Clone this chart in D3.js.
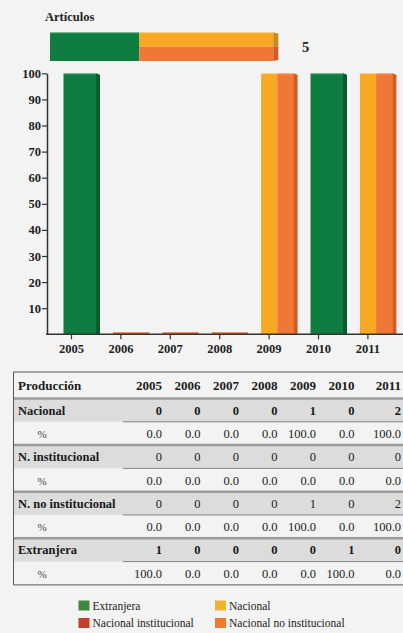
<!DOCTYPE html>
<html><head><meta charset="utf-8">
<script src="https://cdn.jsdelivr.net/npm/d3@7"></script>
<style>
html,body{margin:0;padding:0;background:#f3f3f3;}
svg{display:block;}
svg text{font-family:"Liberation Serif","DejaVu Serif","Times New Roman",serif;}
</style>
</head><body>
<svg id="c" width="403" height="633" font-family="Liberation Serif, DejaVu Serif, serif"></svg>
<script>
// ---------- data ----------
const years = ["2005","2006","2007","2008","2009","2010","2011"];
const nacional      = [0,0,0,0,1,0,2];
const nacInst       = [0,0,0,0,0,0,0];
const nacNoInst     = [0,0,0,0,1,0,2];
const extranjera    = [1,0,0,0,0,1,0];
const nacionalPct   = [0,0,0,0,100,0,100];
const nacInstPct    = [0,0,0,0,0,0,0];
const nacNoInstPct  = [0,0,0,0,100,0,100];
const extranjeraPct = [100,0,0,0,0,100,0];
const yTicks = [10,20,30,40,50,60,70,80,90,100];
const seriesNames = ["Extranjera","Nacional","Nacional institucional","Nacional no institucional"];
const tableLabels = ["Nacional","N. institucional","N. no institucional","Extranjera"];
const titleText = "Artículos";
const headerLabel = "Producción";

// ---------- styles ----------
const FONT = "Liberation Serif, DejaVu Serif, serif";
const C = {
  green:"#0f7d3f", greenSide:"#0a5b2c",
  yellow:"#f8a823", yellowSide:"#c78b1f",
  orange:"#f17735", orangeSide:"#d35a27",
  zero:"#e4662c",
  legend:["#3d8a3d","#f2b12f","#c4402a","#f07b2c"]
};
const svg = d3.select("#c");

const barSeries = [
  {name:"Extranjera", pct:extranjeraPct, front:C.green, side:C.greenSide},
  {name:"Nacional", pct:nacionalPct, front:C.yellow, side:C.yellowSide},
  {name:"Nacional institucional", pct:nacInstPct, front:"#c4402a", side:"#9c2f1f"},
  {name:"Nacional no institucional", pct:nacNoInstPct, front:C.orange, side:C.orangeSide}
];

// ---------- title and summary bar ----------
svg.append("text").attr("x",45).attr("y",21).attr("font-size",12.5).attr("font-weight","bold")
  .attr("fill","#222").text(titleText);

const totExt = d3.sum(extranjera), totNac = d3.sum(nacional);
const total = totExt + totNac;
const xs = d3.scaleLinear([0,total],[50,273.3]);
const tbTop = 32.3, tbBot = 61, tbMid = (tbTop+tbBot)/2;
svg.append("rect").attr("x",xs(0)).attr("y",tbTop).attr("width",xs(totExt)-xs(0)).attr("height",tbBot-tbTop).attr("fill",C.green);
svg.append("rect").attr("x",xs(totExt)).attr("y",tbTop).attr("width",xs(total)-xs(totExt)).attr("height",tbMid-tbTop).attr("fill",C.yellow);
svg.append("rect").attr("x",xs(totExt)).attr("y",tbMid).attr("width",xs(total)-xs(totExt)).attr("height",tbBot-tbMid).attr("fill",C.orange);
svg.append("path").attr("d",`M${xs(total)},${tbTop} L${xs(total)+5},${tbTop+1.5} L${xs(total)+5},${tbMid} L${xs(total)},${tbMid}Z`).attr("fill",C.yellowSide);
svg.append("path").attr("d",`M${xs(total)},${tbMid} L${xs(total)+5},${tbMid} L${xs(total)+5},${tbBot-1} L${xs(total)},${tbBot}Z`).attr("fill",C.orangeSide);
svg.append("rect").attr("x",xs(0)).attr("y",tbTop).attr("width",xs(total)-xs(0)).attr("height",1).attr("fill","#fff").attr("opacity",0.35);
svg.append("text").attr("x",302).attr("y",52).attr("font-size",14.5).attr("font-weight","bold").attr("fill","#222").text(String(total));

// ---------- bar chart ----------
const y = d3.scaleLinear([0,100],[334.3,73.3]);
const x = d3.scaleBand(years,[46.8,392.6]);
const frontW = 32.5, sideW = 4;

const gBars = svg.append("g");
years.forEach((yr,i)=>{
  const left = x(yr) + x.bandwidth()/2 - 8;
  const active = barSeries.filter(s=>s.pct[i]>0);
  if(active.length===0){
    gBars.append("rect").attr("x",left).attr("y",y(0)-2).attr("width",frontW+sideW).attr("height",2).attr("fill",C.zero);
    return;
  }
  const w = frontW/active.length;
  active.forEach((s,k)=>{
    gBars.append("rect").attr("x",left+k*w).attr("y",y(s.pct[i])).attr("width",w+0.3)
      .attr("height",y(0)-y(s.pct[i])).attr("fill",s.front);
  });
  const last = active[active.length-1];
  const fx = left+frontW, top = y(last.pct[i]);
  gBars.append("path").attr("d",`M${fx},${top} L${fx+sideW},${top+1.5} L${fx+sideW},${y(0)} L${fx},${y(0)}Z`).attr("fill",last.side);
  gBars.append("rect").attr("x",left).attr("y",top).attr("width",frontW).attr("height",1).attr("fill","#fff").attr("opacity",0.3);
});

const yAxis = svg.append("g").attr("transform","translate(47,0)")
  .call(d3.axisLeft(y).tickValues(yTicks).tickSize(5).tickSizeOuter(0).tickPadding(1));
yAxis.attr("font-family",FONT);
yAxis.select(".domain").attr("stroke","#333").attr("stroke-width",1.5);
yAxis.selectAll(".tick line").attr("stroke","#333").attr("stroke-width",1.2);
yAxis.selectAll(".tick text").attr("font-size",12.5).attr("font-weight","bold").attr("fill","#222");

const xAxis = svg.append("g").attr("transform",`translate(0,${y(0)})`)
  .call(d3.axisBottom(x).tickSize(5).tickPadding(5));
xAxis.attr("font-family",FONT);
xAxis.select(".domain").remove();
xAxis.selectAll(".tick line").attr("stroke","#333").attr("stroke-width",1.2);
xAxis.selectAll(".tick text").attr("font-size",12.5).attr("font-weight","bold").attr("fill","#222");
svg.append("line").attr("x1",46).attr("x2",403).attr("y1",y(0)).attr("y2",y(0)).attr("stroke","#333").attr("stroke-width",1.5);

// ---------- table ----------
const tTop = 372, hdrH = 26.5, rowH = 23.3, tLeft = 13.5;
const nRows = tableLabels.length*2;
const tBottom = tTop + hdrH + nRows*rowH;
const colScale = d3.scaleLinear([0,5],[162,354.5]);
const colRight = i => i < years.length-1 ? colScale(i) : 401;

const counts = [nacional, nacInst, nacNoInst, extranjera];
const pcts = [nacionalPct, nacInstPct, nacNoInstPct, extranjeraPct];
const boldRow = [true,false,false,true];
const gBg = svg.append("g");
const gT = svg.append("g").attr("fill","#1a1a1a");

tableLabels.forEach((lab,r)=>{
  const rt = tTop + hdrH + r*2*rowH;
  gBg.append("rect").attr("x",tLeft).attr("y",rt).attr("width",403-tLeft).attr("height",rowH).attr("fill","#dcdcdc");
});
svg.append("line").attr("x1",tLeft).attr("x2",403).attr("y1",tTop+hdrH).attr("y2",tTop+hdrH).attr("stroke","#9b9b9b").attr("stroke-width",2.5);
tableLabels.forEach((lab,r)=>{
  const rt = tTop + hdrH + r*2*rowH;
  if(r>0) svg.append("line").attr("x1",tLeft).attr("x2",403).attr("y1",rt).attr("y2",rt).attr("stroke","#9b9b9b").attr("stroke-width",2.5);
  svg.append("line").attr("x1",123).attr("x2",403).attr("y1",rt+rowH).attr("y2",rt+rowH).attr("stroke","#6a6a6a").attr("stroke-width",0.8);
});
svg.append("path").attr("d",`M403,${tTop} L${tLeft},${tTop} L${tLeft},${tBottom} L403,${tBottom}`)
  .attr("fill","none").attr("stroke","#555").attr("stroke-width",1);

gT.append("text").attr("x",18).attr("y",tTop+17.5).attr("font-size",13).attr("font-weight","bold").text(headerLabel);
years.forEach((yr,i)=>{
  gT.append("text").attr("x",colRight(i)).attr("y",tTop+17.5).attr("text-anchor","end")
    .attr("font-size",13).attr("font-weight","bold").text(yr);
});
tableLabels.forEach((lab,r)=>{
  const rt = tTop + hdrH + r*2*rowH;
  const b1 = rt + rowH/2 + 4.5, b2 = rt + rowH + rowH/2 + 4.5;
  gT.append("text").attr("x",18).attr("y",b1).attr("font-size",12.5).attr("font-weight","bold").text(lab);
  gT.append("text").attr("x",42).attr("y",b2).attr("text-anchor","middle").attr("font-size",11).attr("fill","#444").text("%");
  years.forEach((yr,i)=>{
    gT.append("text").attr("x",colRight(i)).attr("y",b1).attr("text-anchor","end")
      .attr("font-size",12.5).attr("font-weight",boldRow[r]?"bold":"normal").text(counts[r][i]);
    gT.append("text").attr("x",colRight(i)).attr("y",b2).attr("text-anchor","end")
      .attr("font-size",12.5).text(d3.format(".1f")(pcts[r][i]));
  });
});

// ---------- legend ----------
const legPos = [[78.5,600.5],[215,600.5],[78.5,618],[215,618]];
[0,1,2,3].forEach((si,k)=>{
  const [lx,ly] = legPos[k];
  svg.append("rect").attr("x",lx).attr("y",ly).attr("width",11).attr("height",10).attr("fill",C.legend[si]);
  svg.append("text").attr("x",lx+14).attr("y",ly+9).attr("font-size",11.5).attr("fill","#222").text(seriesNames[si]);
});
</script>
</body></html>
